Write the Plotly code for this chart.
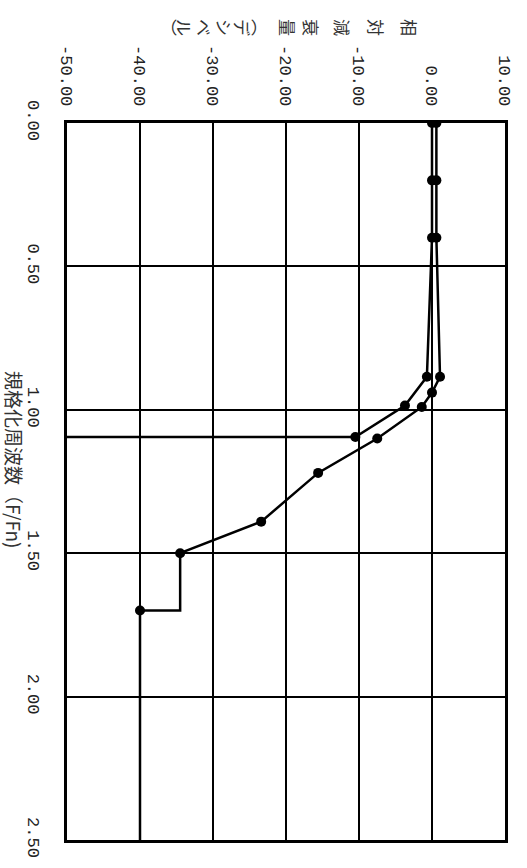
import plotly.graph_objects as go

# ---- data ----
freq_a = [0.0, 0.2, 0.4, 0.885, 0.985, 1.095, 1.095]
db_a = [0.0, 0.0, 0.0, -0.7, -3.7, -10.5, -100.0]

freq_b = [0.0, 0.2, 0.4, 0.885, 0.94, 0.99, 1.1, 1.22, 1.39, 1.5, 1.7, 1.7, 2.5]
db_b = [0.6, 0.6, 0.6, 1.1, 0.0, -1.4, -7.5, -15.6, -23.4, -34.5, -34.5, -40.0, -40.0]
marker_b = [True, True, True, True, True, True, True, True, True, True, False, True, False]

db_ticks = [-50, -40, -30, -20, -10, 0, 10]
db_ticktext = ["-50.00", "-40.00", "-30.00", "-20.00", "-10.00", "0.00", "10.00"]
freq_ticks = [0.0, 0.5, 1.0, 1.5, 2.0, 2.5]
freq_ticktext = ["0.00", "0.50", "1.00", "1.50", "2.00", "2.50"]

freq_title = "規格化周波数（F/Fn)"
db_title_chars = ["相", "対", "減", "衰", "量", "︵", "デ", "シ", "ベ", "ル", "︶"]

# ---- layout constants ----
W, H = 527, 868
ML, MR, MT, MB = 67, 22, 123, 28
PW, PH = W - ML - MR, H - MT - MB
title_char_px = [410, 377, 343, 312, 288, 261, 243, 225, 205, 185, 170]

fig = go.Figure()
fig.add_trace(go.Scatter(
    x=db_a, y=freq_a, mode="lines+markers",
    line=dict(color="black", width=2.5),
    marker=dict(color="black", size=10, line=dict(width=0)),
    cliponaxis=True, showlegend=False))
fig.add_trace(go.Scatter(
    x=db_b, y=freq_b, mode="lines",
    line=dict(color="black", width=2.5),
    cliponaxis=True, showlegend=False))
fig.add_trace(go.Scatter(
    x=[d for d, m in zip(db_b, marker_b) if m],
    y=[f for f, m in zip(freq_b, marker_b) if m],
    mode="markers",
    marker=dict(color="black", size=10, line=dict(width=0)),
    cliponaxis=True, showlegend=False))

tick_font = dict(family="Liberation Mono, DejaVu Sans Mono, monospace", size=17, color="#222")

fig.update_layout(
    width=W, height=H,
    margin=dict(l=ML, r=MR, t=MT, b=MB, pad=0),
    paper_bgcolor="white", plot_bgcolor="white",
    xaxis=dict(
        range=[-50, 10], side="top", tickvals=db_ticks, ticktext=db_ticktext,
        tickangle=90, tickfont=tick_font, showgrid=True, gridcolor="black",
        gridwidth=2, zeroline=False, showline=True, linecolor="black",
        linewidth=2.5, mirror=True, ticks="", ticklabelstandoff=8,
        automargin=False,
    ),
    yaxis=dict(
        range=[2.5, 0], tickvals=freq_ticks, ticktext=freq_ticktext,
        tickangle=90, tickfont=tick_font, showgrid=True, gridcolor="black",
        gridwidth=2, zeroline=False, showline=True, linecolor="black",
        linewidth=2.5, mirror=True, ticks="", ticklabelstandoff=16,
        automargin=False,
    ),
)

fig.add_annotation(
    text=freq_title, textangle=90, showarrow=False,
    xref="paper", yref="paper",
    x=(14 - ML) / PW, y=(H - MB - 460) / PH, xanchor="center", yanchor="middle",
    font=dict(family="Noto Sans CJK JP", size=19, color="#333"))

for ch, px in zip(db_title_chars, title_char_px):
    fig.add_annotation(
        text=ch, textangle=90, showarrow=False,
        xref="paper", yref="paper",
        x=(px - ML) / PW, y=(H - MB - 27) / PH, xanchor="center", yanchor="middle",
        font=dict(family="Noto Sans CJK JP", size=17, color="#333"))

fig.write_html(
    "out.html",
    config={"displayModeBar": False},
    post_script="document.body.style.margin='0';document.body.style.overflow='hidden';",
)
